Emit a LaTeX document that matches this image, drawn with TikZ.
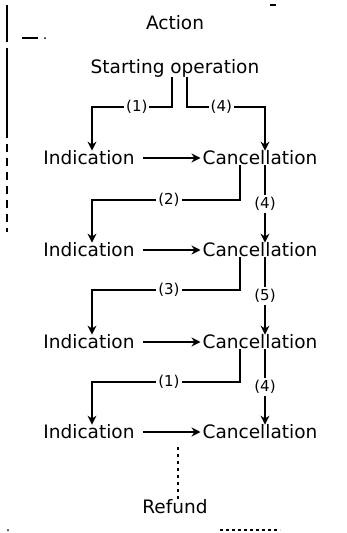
\documentclass[tikz,border=0pt]{standalone}
\usepackage{fontspec}
\setmainfont{DejaVu Sans}
\usetikzlibrary{arrows.meta}
\begin{document}
\begin{tikzpicture}[x=1pt,y=-1pt,
  txt/.style={inner sep=0pt,font=\fontsize{18.5}{22}\selectfont},
  lab/.style={inner sep=2pt,fill=white,font=\fontsize{15}{17}\selectfont},
  arr/.style={line width=1.5pt,-{Stealth[length=9pt,width=9pt]}},
  sidemark/.style={line width=1.3pt}]
\useasboundingbox (0,0) rectangle (347,533);
% texts
\node[txt] (act) at (175,23) {Action};
\node[txt] (start) at (175,68) {Starting operation};
\foreach \i/\y in {2/158,3/250,4/342,5/432}{
  \node[txt] (ind\i) at (89,\y) {Indication};
  \node[txt] (can\i) at (260,\y) {Cancellation};
}
\node[txt] (rep) at (175,507) {Refund};
% top connectors
\draw[arr] ([xshift=-3pt]start.south) |- (92,107) node[lab,pos=0.72] {(1)} -- (ind2.north -| 92,0);
\draw[arr] ([xshift=12pt]start.south) |- (265,107) node[lab,pos=0.72] {(4)} -- (can2.north -| 265,0);
% row connectors
\foreach \i/\n/\h/\l/\r in {2/3/200/(2)/(4),3/4/290/(3)/(5),4/5/382/(1)/(4)}{
  \draw[arr] (can\i.south -| 240,0) |- (92,\h) node[lab,pos=0.74] {\l} -- (ind\n.north -| 92,0);
  \draw[arr] (can\i.south -| 265,0) -- node[lab] {\r} (can\n.north -| 265,0);
}
% horizontal arrows
\foreach \i in {2,3,4,5}{
  \draw[arr] ([xshift=8pt]ind\i.east) -- ([xshift=-2pt]can\i.west);
}
% dotted continuation
\coordinate (dtop) at (178,447);
\draw[line width=2.5pt,dash pattern=on 3pt off 4pt] (dtop) -- (rep.north -| 178,0);
% side marks
\draw[sidemark] (7,5) -- (7,42);
\draw[sidemark] (22,38) -- (38,38);
\fill (45,38) circle (1pt);
\draw[sidemark] (7,48) -- (7,130);
\draw[sidemark,dash pattern=on 8pt off 6pt] (7,130) -- (7,232);
\draw[sidemark] (270,5) -- (276,5);
\fill (8,530) circle (1pt);
\draw[sidemark,dashed] (220,530) -- (280,530);
\end{tikzpicture}
\end{document}
